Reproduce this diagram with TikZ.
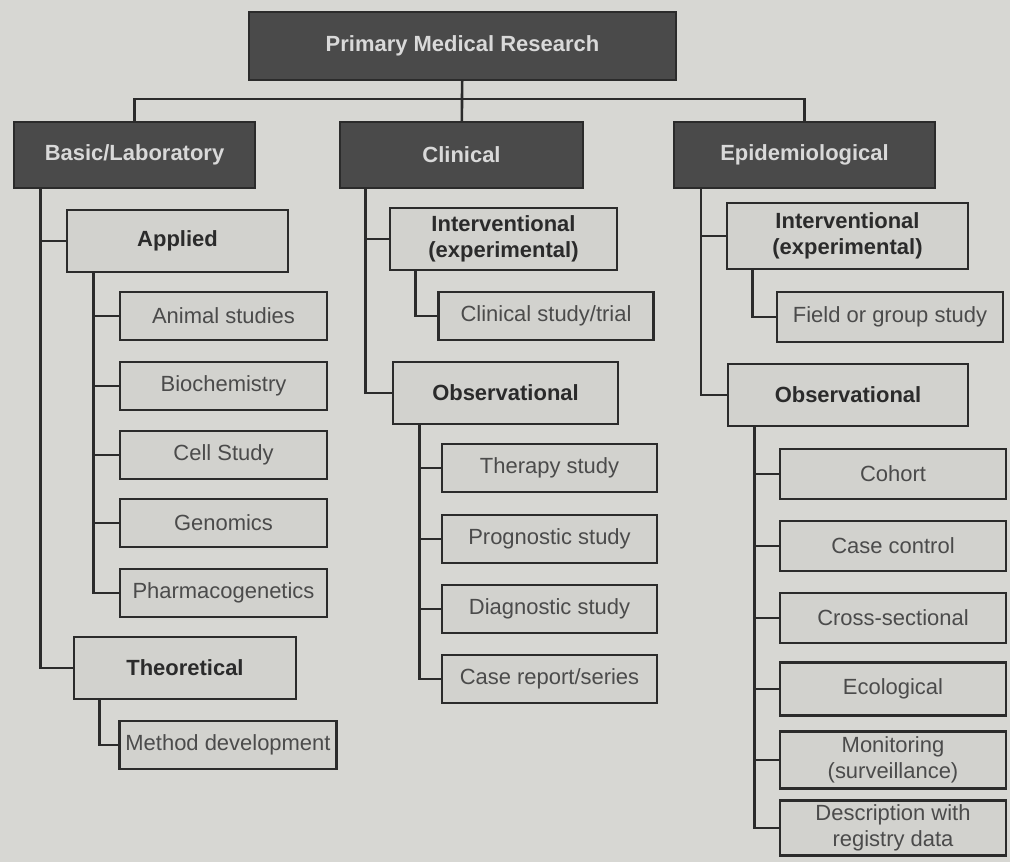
\documentclass[tikz,border=0pt]{standalone}
\usepackage{fontspec}
\setmainfont{Liberation Sans}
\usepackage{xcolor}
\definecolor{paper}{HTML}{D7D7D3}
\definecolor{boxfill}{HTML}{D2D2CE}
\definecolor{darkbox}{HTML}{4A4A4A}
\definecolor{lightink}{HTML}{D9D9D9}
\definecolor{ink}{HTML}{2B2B2B}

\begin{document}
\begin{tikzpicture}[
x=0.2mm, y=-0.2mm,
every node/.style={draw=ink, line width=1.3pt, align=center, inner sep=2pt,
  font=\fontsize{12.5}{14.5}\selectfont},
dark/.style={fill=darkbox, text=lightink, font=\fontsize{12.5}{14.5}\selectfont\bfseries, minimum height=13.2mm},
group/.style={fill=boxfill, text=ink, font=\fontsize{12.5}{14.5}\selectfont\bfseries, minimum height=12.4mm},
leaf/.style={fill=boxfill, text=ink!85, minimum height=9.6mm},
tree/.style={draw=ink, line width=1.5pt}
]

\fill[paper] (0,0) rectangle (1010,862);
\useasboundingbox (0,0) rectangle (1010,862);

%-------------------------
% Nodes
%-------------------------

\node (top) [dark, minimum width=85.4mm, minimum height=13.6mm] at (462.5,46) {Primary Medical Research};

\node (basic) [dark, minimum width=48.2mm] at (134.5,155) {Basic/Laboratory};
\node (clin)  [dark, minimum width=48.6mm] at (461.5,155) {Clinical};
\node (epi)   [dark, minimum width=52.2mm] at (804.5,155) {Epidemiological};

% basic / laboratory
\node (applied) [group, minimum width=44.2mm] at (177.5,241) {Applied};
\node (animal)  [leaf, minimum width=41.4mm] at (223.5,316) {Animal studies};
\node (biochem) [leaf, minimum width=41.4mm] at (223.5,386) {Biochemistry};
\node (cell)    [leaf, minimum width=41.4mm] at (223.5,455) {Cell Study};
\node (genom)   [leaf, minimum width=41.4mm] at (223.5,523) {Genomics};
\node (pharma)  [leaf, minimum width=41.4mm] at (223.5,593) {Pharmacogenetics};
\node (theo)    [group, minimum width=44.4mm] at (185,668) {Theoretical};
\node (method)  [leaf, minimum width=43.4mm] at (228,745) {Method development};

% clinical
\node (cinterv) [group, minimum width=45.4mm] at (503.5,239) {Interventional\\(experimental)};
\node (ctrial)  [leaf, minimum width=43mm] at (546,316) {Clinical study/trial};
\node (cobs)    [group, minimum width=45mm] at (505.5,393) {Observational};
\node (therapy) [leaf, minimum width=43mm] at (549.5,468) {Therapy study};
\node (prog)    [leaf, minimum width=43mm] at (549.5,539) {Prognostic study};
\node (diag)    [leaf, minimum width=43mm] at (549.5,609) {Diagnostic study};
\node (casers)  [leaf, minimum width=43mm] at (549.5,679) {Case report/series};

% epidemiological
\node (einterv) [group, minimum width=48.2mm, minimum height=13.2mm] at (847.5,236) {Interventional\\(experimental)};
\node (field)   [leaf, minimum width=45.2mm, minimum height=10mm] at (890,317) {Field or group study};
\node (eobs)    [group, minimum width=48mm] at (848,395) {Observational};
\node (cohort)  [leaf, minimum width=45.2mm, minimum height=10mm] at (893,474) {Cohort};
\node (casec)   [leaf, minimum width=45.2mm, minimum height=10mm] at (893,546) {Case control};
\node (cross)   [leaf, minimum width=45.2mm, minimum height=10mm] at (893,618) {Cross-sectional};
\node (ecol)    [leaf, minimum width=45.2mm, minimum height=10.6mm] at (893,689) {Ecological};
\node (monit)   [leaf, minimum width=45.2mm, minimum height=11.4mm] at (893,760) {Monitoring\\(surveillance)};
\node (regis)   [leaf, minimum width=45.2mm, minimum height=11mm] at (893,828) {Description with\\registry data};

%-------------------------
% Lines
%-------------------------

\draw[tree] (top) -- (clin);
\draw[tree] (basic.north) -- ++(0,-22) -| (epi.north);

\foreach \kid in {applied,theo}
  \draw[tree] ([xshift=5.5mm]basic.south west) |- (\kid.west);
\foreach \kid in {animal,biochem,cell,genom,pharma}
  \draw[tree] ([xshift=5.5mm]applied.south west) |- (\kid.west);
\draw[tree] ([xshift=5.3mm]theo.south west) |- (method.west);

\foreach \kid in {cinterv,cobs}
  \draw[tree] ([xshift=5.3mm]clin.south west) |- (\kid.west);
\draw[tree] ([xshift=5.3mm]cinterv.south west) |- (ctrial.west);
\foreach \kid in {therapy,prog,diag,casers}
  \draw[tree] ([xshift=5.5mm]cobs.south west) |- (\kid.west);

\foreach \kid in {einterv,eobs}
  \draw[tree] ([xshift=5.6mm]epi.south west) |- (\kid.west);
\draw[tree] ([xshift=5.3mm]einterv.south west) |- (field.west);
\foreach \kid in {cohort,casec,cross,ecol,monit,regis}
  \draw[tree] ([xshift=5.5mm]eobs.south west) |- (\kid.west);

\end{tikzpicture}
\end{document}
